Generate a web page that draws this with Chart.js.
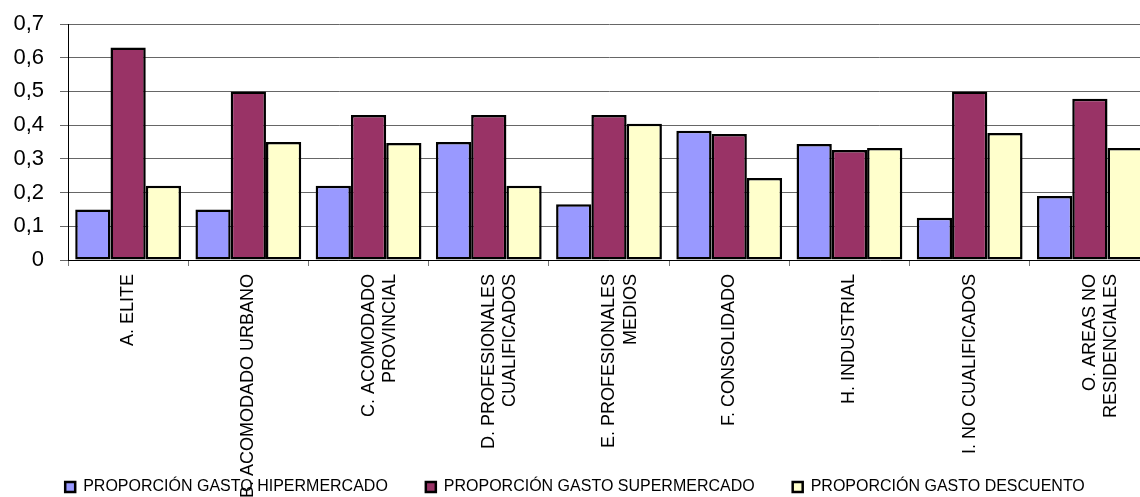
<!DOCTYPE html>
<html lang="es">
<head>
<meta charset="UTF-8" />
<title>Proporción de gasto</title>
<script src="https://cdn.jsdelivr.net/npm/chart.js"></script>
<style>
  html, body { margin: 0; padding: 0; background: #fff; overflow: hidden; }
  .wrap { width: 1150px; height: 497px; position: relative; }
</style>
</head>
<body>
<div class="wrap"><canvas id="chart"></canvas></div>
<script>
  // categories (tipologias) and the three series
  const categories = [
    "A. ELITE",
    "B. ACOMODADO URBANO",
    ["C. ACOMODADO", "PROVINCIAL"],
    ["D. PROFESIONALES", "CUALIFICADOS"],
    ["E. PROFESIONALES", "MEDIOS"],
    "F. CONSOLIDADO",
    "H. INDUSTRIAL",
    "I. NO CUALIFICADOS",
    ["O. AREAS NO", "RESIDENCIALES"]
  ];
  const seriesNames = [
    "PROPORCIÓN GASTO HIPERMERCADO",
    "PROPORCIÓN GASTO SUPERMERCADO",
    "PROPORCIÓN GASTO DESCUENTO"
  ];
  const hiper = [0.15, 0.15, 0.22, 0.35, 0.165, 0.383, 0.344, 0.125, 0.19];
  const super_ = [0.63, 0.50, 0.43, 0.43, 0.43, 0.374, 0.326, 0.50, 0.478];
  const descuento = [0.22, 0.35, 0.347, 0.22, 0.404, 0.243, 0.332, 0.377, 0.332];
  const yMax = 0.7;
  const yStep = 0.1;

  const colors = ["#9999FF", "#993366", "#FFFFCC"];

  // let the long rotated category labels run down over the legend, as in the original
  const unclipLabels = {
    id: "unclipLabels",
    beforeDraw(chart) {
      chart.scales.x.bottom = chart.height;
    }
  };

  const ctx = document.getElementById("chart").getContext("2d");
  new Chart(ctx, {
    type: "bar",
    data: {
      labels: categories,
      datasets: [hiper, super_, descuento].map((d, i) => ({
        label: seriesNames[i],
        data: d,
        backgroundColor: colors[i],
        borderColor: "#000",
        borderWidth: 2.5,
        borderSkipped: false,
        categoryPercentage: 0.88,
        barPercentage: 1.0
      }))
    },
    options: {
      responsive: true,
      maintainAspectRatio: false,
      animation: false,
      layout: { padding: { top: 24, left: 0, right: 0, bottom: 0 } },
      plugins: {
        tooltip: { enabled: false },
        legend: {
          position: "bottom",
          maxHeight: 56,
          labels: {
            boxWidth: 10,
            boxHeight: 10,
            padding: 38,
            color: "#000",
            font: { family: "'Liberation Sans', Arial, sans-serif", size: 16 }
          }
        }
      },
      scales: {
        x: {
          afterFit: (scale) => { scale.height = 181; },
          grid: {
            drawOnChartArea: false,
            drawTicks: true,
            tickLength: 6,
            color: "#777",
            offset: true
          },
          border: { color: "#000", width: 1 },
          ticks: {
            autoSkip: false,
            minRotation: 90,
            maxRotation: 90,
            padding: 8,
            color: "#000",
            font: { family: "'Liberation Sans', Arial, sans-serif", size: 18 }
          }
        },
        y: {
          min: 0,
          max: yMax,
          afterFit: (scale) => {
            scale.width = 68;
            scale.paddingTop = 0;
            scale.paddingBottom = 0;
          },
          grid: { color: "#666", tickLength: 8, drawTicks: true },
          border: { color: "#000", width: 1 },
          ticks: {
            stepSize: yStep,
            autoSkip: false,
            padding: 16,
            color: "#000",
            font: { family: "'Liberation Sans', Arial, sans-serif", size: 22 },
            callback: (v) => String(Math.round(v * 10) / 10).replace(".", ",")
          }
        }
      }
    },
    plugins: [unclipLabels]
  });
</script>
</body>
</html>
